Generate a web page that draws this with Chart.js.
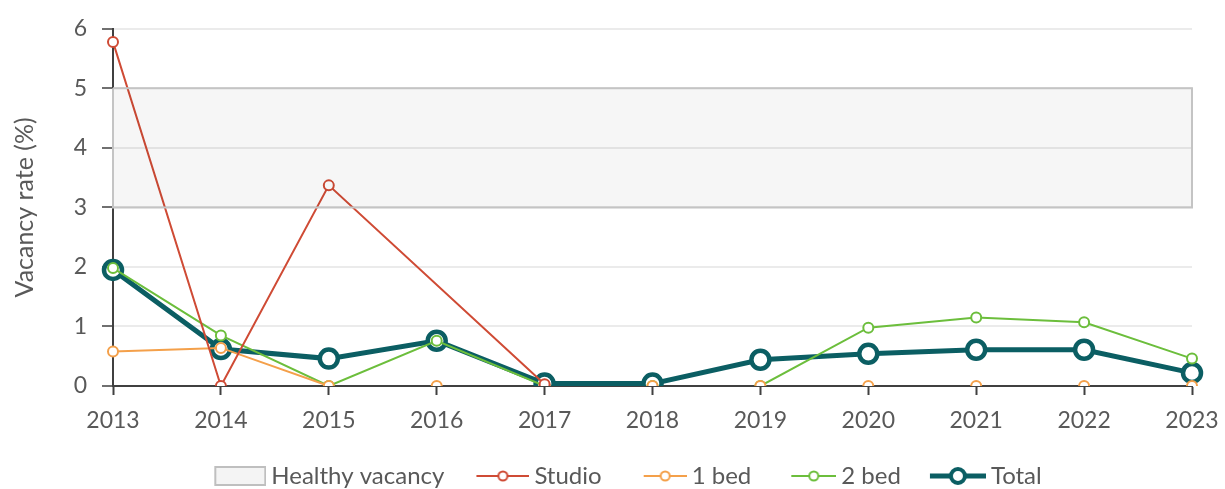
<!DOCTYPE html>
<html lang="en">
  <head>
    <meta charset="UTF-8" />
    <title>Vacancy rate</title>
    <script src="https://cdn.jsdelivr.net/npm/chart.js"></script>
    <style>
      body {
        margin: 0;
        padding: 0;
        background-color: #fff;
      }
      #chartContainer {
        width: 1225px;
        height: 489px;
      }
    </style>
  </head>
  <body>
    <div id="chartContainer">
      <canvas id="vacancyChart"></canvas>
    </div>

    <script>
      // Chart data
      const years = ["2013", "2014", "2015", "2016", "2017", "2018", "2019", "2020", "2021", "2022", "2023"];
      const studio = [5.78, 0, 3.37, null, 0.03, null, null, null, null, null, null];
      const oneBed = [0.58, 0.64, 0, 0, 0, 0, 0, 0, 0, 0, 0];
      const twoBed = [1.98, 0.85, 0, 0.76, 0, 0, 0, 0.98, 1.15, 1.07, 0.46];
      const total = [1.95, 0.62, 0.46, 0.76, 0.04, 0.04, 0.44, 0.54, 0.61, 0.61, 0.22];
      const healthyRange = [3, 5];
      const legendNames = ["Healthy vacancy", "Studio", "1 bed", "2 bed", "Total"];

      const textColor = "#595959";
      const axisColor = "#404040";
      const fontFamily = "Lato, 'Open Sans', sans-serif";

      // outline of the healthy band, traced corner to corner
      const first = years[0];
      const last = years[years.length - 1];
      const bandOutline = [
        { x: first, y: healthyRange[1] },
        { x: last, y: healthyRange[1] },
        { x: last, y: healthyRange[0] },
        { x: first, y: healthyRange[0] },
        { x: first, y: healthyRange[1] },
      ];

      // hide segments lying on the axis (both ends at zero)
      const hideZeroRun = (ctx) =>
        ctx.p0.parsed.y === 0 && ctx.p1.parsed.y === 0 ? "rgba(0,0,0,0)" : undefined;

      // small canvases used as legend icons
      function lineIcon(color, w, lineW, r, borderW) {
        const c = document.createElement("canvas");
        c.width = 82;
        c.height = 26;
        const g = c.getContext("2d");
        g.strokeStyle = color;
        g.lineWidth = lineW;
        g.beginPath();
        g.moveTo(82 - w, 13);
        g.lineTo(82, 13);
        g.stroke();
        g.beginPath();
        g.arc(82 - w / 2, 13, r, 0, Math.PI * 2);
        g.fillStyle = "#fff";
        g.fill();
        g.lineWidth = borderW;
        g.stroke();
        return c;
      }
      function boxIcon() {
        const c = document.createElement("canvas");
        c.width = 82;
        c.height = 26;
        const g = c.getContext("2d");
        g.fillStyle = "#f4f4f4";
        g.fillRect(31, 4, 50, 18);
        g.strokeStyle = "#bfbfbf";
        g.lineWidth = 2;
        g.strokeRect(31, 4, 50, 18);
        return c;
      }

      const icons = [
        boxIcon(),
        lineIcon("#cf4b35", 53, 2, 4.5, 2),
        lineIcon("#f4a04a", 43, 2, 4.5, 2),
        lineIcon("#6cbe3c", 45, 2, 4.5, 2),
        lineIcon("#0b5e63", 56, 5, 7, 4),
      ];

      const ctx = document.getElementById("vacancyChart").getContext("2d");

      new Chart(ctx, {
        type: "line",
        data: {
          labels: years,
          datasets: [
            {
              label: legendNames[0],
              data: bandOutline,
              backgroundColor: "rgba(0, 0, 0, 0.035)",
              borderColor: "#c4c4c4",
              borderWidth: 2,
              pointRadius: 0,
              fill: "shape",
              tension: 0,
            },
            {
              label: legendNames[1],
              data: studio,
              borderColor: "#cf4b35",
              borderWidth: 2,
              pointRadius: 5,
              pointBorderWidth: 2,
              pointBackgroundColor: "#fff",
              pointBorderColor: "#cf4b35",
              spanGaps: true,
              segment: { borderColor: hideZeroRun },
            },
            {
              label: legendNames[2],
              data: oneBed,
              borderColor: "#f4a04a",
              borderWidth: 2,
              pointRadius: 5,
              pointBorderWidth: 2,
              pointBackgroundColor: "#fff",
              pointBorderColor: "#f4a04a",
              segment: { borderColor: hideZeroRun },
            },
            {
              label: legendNames[3],
              data: twoBed,
              borderColor: "#6cbe3c",
              borderWidth: 2,
              pointRadius: 5,
              pointBorderWidth: 2,
              pointBackgroundColor: "#fff",
              pointBorderColor: "#6cbe3c",
              segment: { borderColor: hideZeroRun },
            },
            {
              label: legendNames[4],
              data: total,
              borderColor: "#0b5e63",
              borderWidth: 5,
              pointRadius: 9,
              pointBorderWidth: 4.5,
              pointBackgroundColor: "#fff",
              pointBorderColor: "#0b5e63",
            },
          ],
        },
        options: {
          responsive: true,
          maintainAspectRatio: false,
          animation: false,
          layout: {
            padding: { left: 41, right: 33, top: 24, bottom: -9 },
          },
          scales: {
            x: {
              offset: false,
              grid: {
                drawOnChartArea: false,
                drawTicks: true,
                tickLength: 9,
                tickColor: axisColor,
                tickWidth: 2,
              },
              border: { color: axisColor, width: 2 },
              ticks: {
                color: textColor,
                font: { family: fontFamily, size: 23 },
                padding: 12,
                maxRotation: 0,
                autoSkip: false,
              },
              afterFit: (scale) => {
                scale.height = 68;
                scale.paddingRight = 0;
              },
            },
            y: {
              min: 0,
              max: 6,
              ticks: {
                stepSize: 0.5,
                color: textColor,
                font: { family: fontFamily, size: 23 },
                padding: 15,
                callback: (value) => (Number.isInteger(value) ? value : ""),
              },
              grid: {
                color: "#ebebeb",
                lineWidth: 2,
                tickColor: axisColor,
                tickLength: 11,
                tickWidth: 1.5,
              },
              border: { color: axisColor, width: 2 },
              title: {
                display: true,
                text: "Vacancy rate (%)",
                color: textColor,
                font: { family: fontFamily, size: 25 },
                padding: { top: -31, bottom: 0 },
              },
              afterFit: (scale) => {
                scale.width = 72;
              },
            },
          },
          plugins: {
            legend: {
              position: "bottom",
              labels: {
                usePointStyle: true,
                pointStyleWidth: 68,
                padding: 10,
                color: textColor,
                font: { family: fontFamily, size: 24 },
                generateLabels: () =>
                  legendNames.map((name, i) => ({
                    text: name,
                    pointStyle: icons[i],
                    datasetIndex: i,
                    hidden: false,
                    lineWidth: 0,
                    fontColor: textColor,
                  })),
              },
            },
            tooltip: { enabled: false },
          },
        },
      });
    </script>
  </body>
</html>
